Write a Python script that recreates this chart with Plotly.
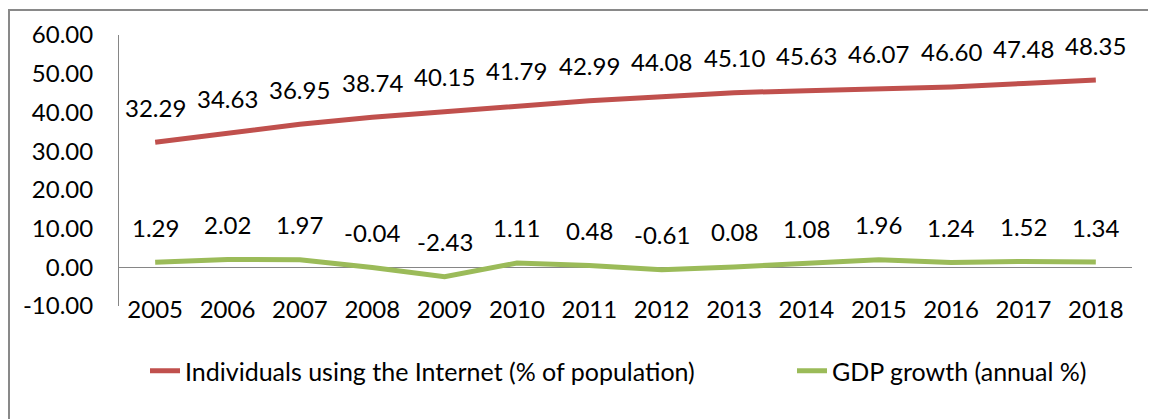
import plotly.graph_objects as go

years = [2005, 2006, 2007, 2008, 2009, 2010, 2011, 2012, 2013, 2014, 2015, 2016, 2017, 2018]
internet = [32.29, 34.63, 36.95, 38.74, 40.15, 41.79, 42.99, 44.08, 45.10, 45.63, 46.07, 46.60, 47.48, 48.35]
gdp = [1.29, 2.02, 1.97, -0.04, -2.43, 1.11, 0.48, -0.61, 0.08, 1.08, 1.96, 1.24, 1.52, 1.34]
y_ticks = [-10, 0, 10, 20, 30, 40, 50, 60]

RED = "#C0504D"
GREEN = "#9BBB59"
FONT = "Lato"
FS = 24
W, H = 1156, 419
OFF = 8  # page body margin


def px(x):
    return (x - OFF) / W


def py(y):
    return 1 - (y - OFF) / H


fig = go.Figure()
fig.add_trace(go.Scatter(x=years, y=internet, mode="lines", name="Individuals using the Internet (% of population)",
                         line=dict(color=RED, width=5), hoverinfo="skip", legend="legend"))
fig.add_trace(go.Scatter(x=years, y=gdp, mode="lines", name="GDP growth (annual %)",
                         line=dict(color=GREEN, width=5), hoverinfo="skip", legend="legend2"))

annotations = []
for xs, ys in [(years, internet), (years, gdp)]:
    for xv, yv in zip(xs, ys):
        annotations.append(dict(x=xv, y=yv, xref="x", yref="y", text=f"{yv:.2f}", showarrow=False,
                                yshift=35, font=dict(family=FONT, size=FS, color="#000000")))

legend_common = dict(orientation="h", yanchor="middle", font=dict(family=FONT, size=25),
                     bgcolor="rgba(0,0,0,0)", itemwidth=30)

fig.update_layout(
    width=W, height=H,
    margin=dict(l=0, r=0, t=0, b=0, autoexpand=False),
    paper_bgcolor="white", plot_bgcolor="white",
    font=dict(family=FONT, size=FS, color="#000000"),
    annotations=annotations,
    showlegend=True,
    legend=dict(x=px(145), y=py(371), xanchor="left", **legend_common),
    legend2=dict(x=px(792), y=py(371), xanchor="left", **legend_common),
    xaxis=dict(domain=[px(119), px(1132)], range=[2004.5, 2018.5], tickmode="array", tickvals=years,
               ticktext=[str(y) for y in years], showgrid=False, showline=False, zeroline=False,
               ticks="", ticklabelstandoff=-13, tickfont=dict(family=FONT, size=FS), automargin=False),
    yaxis=dict(domain=[py(306), py(35)], range=[-10, 60], tickmode="array", tickvals=y_ticks,
               ticktext=[f"{v:.2f}" for v in y_ticks], showgrid=False, showline=True, linecolor="#868686",
               linewidth=1, zeroline=True, zerolinecolor="#868686", zerolinewidth=1, ticks="",
               ticklabelstandoff=20, tickfont=dict(family=FONT, size=FS), automargin=False),
    shapes=[dict(type="rect", xref="paper", yref="paper", x0=px(9), x1=1.05, y0=-0.1, y1=py(10),
                 line=dict(color="#898989", width=2), fillcolor="rgba(0,0,0,0)", layer="below")],
)

fig.write_html("out.html")
